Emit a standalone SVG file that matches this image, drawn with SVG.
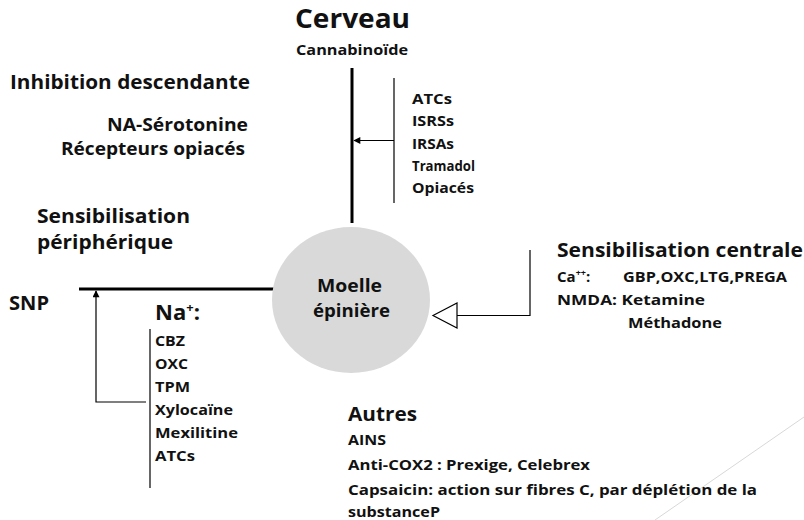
<svg xmlns="http://www.w3.org/2000/svg" width="804" height="520" viewBox="0 0 804 520">
<style>
text{font-family:"Open Sans","Noto Sans","Liberation Sans",sans-serif;font-weight:bold;fill:#111;}
.s{font-size:15px;}
.h{font-size:19px;}
.thick{stroke:#000;stroke-width:3;fill:none;}
.thin{stroke:#000;stroke-width:1.2;fill:none;}
</style>
<defs>
<marker id="ah" viewBox="0 0 10 10" refX="9" refY="5" markerWidth="8" markerHeight="7" markerUnits="userSpaceOnUse" orient="auto">
<path d="M0,0 L10,5 L0,10 z" fill="#000"/>
</marker>
</defs>
<rect width="804" height="520" fill="#fff"/>
<line x1="655" y1="520" x2="804" y2="417" stroke="#d8d8d8" stroke-width="1"/>

<g id="connectors">
<line class="thick" x1="352" y1="68" x2="352" y2="223"/>
<line class="thin" x1="394" y1="78" x2="394" y2="203"/>
<line class="thin" x1="394" y1="140.5" x2="354" y2="140.5" marker-end="url(#ah)"/>
<line class="thick" x1="79" y1="289" x2="274" y2="289"/>
<polyline class="thin" points="146,402 96,402 96,291" marker-end="url(#ah)"/>
<line class="thin" x1="150" y1="329" x2="150" y2="488"/>
<polyline class="thin" points="530,250 530,315.5 457,315.5"/>
<polygon points="433,315.5 457,303 457,328" fill="#fff" stroke="#000" stroke-width="1.2"/>
</g>

<g id="moelle">
<ellipse cx="351" cy="300" rx="79" ry="73" fill="#d9d9d9"/>
<text x="317" y="292" font-size="18" textLength="65" lengthAdjust="spacingAndGlyphs">Moelle</text>
<text x="313" y="317" font-size="18" textLength="77" lengthAdjust="spacingAndGlyphs">épinière</text>
</g>

<g id="cerveau">
<text x="295" y="28" font-size="26" textLength="115" lengthAdjust="spacingAndGlyphs">Cerveau</text>
<text class="s" x="296" y="55" textLength="112" lengthAdjust="spacingAndGlyphs">Cannabinoïde</text>
</g>

<g id="antidepresseurs">
<text class="s" x="412" y="104" textLength="40" lengthAdjust="spacingAndGlyphs">ATCs</text>
<text class="s" x="412" y="126" textLength="42" lengthAdjust="spacingAndGlyphs">ISRSs</text>
<text class="s" x="412" y="149" textLength="42" lengthAdjust="spacingAndGlyphs">IRSAs</text>
<text class="s" x="412" y="171" textLength="63" lengthAdjust="spacingAndGlyphs">Tramadol</text>
<text class="s" x="412" y="193" textLength="62" lengthAdjust="spacingAndGlyphs">Opiacés</text>
</g>

<g id="inhibition">
<text class="h" x="10" y="89" textLength="240" lengthAdjust="spacingAndGlyphs">Inhibition descendante</text>
<text x="107" y="131" font-size="17" textLength="141" lengthAdjust="spacingAndGlyphs">NA-Sérotonine</text>
<text x="61" y="155" font-size="17" textLength="184" lengthAdjust="spacingAndGlyphs">Récepteurs opiacés</text>
</g>

<g id="peripherique">
<text class="h" x="37" y="223" textLength="153" lengthAdjust="spacingAndGlyphs">Sensibilisation</text>
<text class="h" x="37" y="249" textLength="136" lengthAdjust="spacingAndGlyphs">périphérique</text>
</g>

<g id="snp">
<text class="h" x="9" y="310" textLength="40" lengthAdjust="spacingAndGlyphs">SNP</text>
</g>

<g id="sodium">
<text x="155" y="320" font-size="22">Na<tspan font-size="13" dy="-8">+</tspan><tspan dy="8">:</tspan></text>
<text class="s" x="155" y="346" textLength="30" lengthAdjust="spacingAndGlyphs">CBZ</text>
<text class="s" x="155" y="369" textLength="33" lengthAdjust="spacingAndGlyphs">OXC</text>
<text class="s" x="155" y="392" textLength="35" lengthAdjust="spacingAndGlyphs">TPM</text>
<text class="s" x="155" y="415" textLength="78" lengthAdjust="spacingAndGlyphs">Xylocaïne</text>
<text class="s" x="155" y="438" textLength="83" lengthAdjust="spacingAndGlyphs">Mexilitine</text>
<text class="s" x="155" y="461" textLength="40" lengthAdjust="spacingAndGlyphs">ATCs</text>
</g>

<g id="centrale">
<text class="h" x="557" y="257" textLength="246" lengthAdjust="spacingAndGlyphs">Sensibilisation centrale</text>
<text class="s" x="557" y="282">Ca<tspan font-size="9" dy="-6">++</tspan><tspan dy="6">:</tspan></text>
<text class="s" x="623" y="282" textLength="164" lengthAdjust="spacingAndGlyphs">GBP,OXC,LTG,PREGA</text>
<text class="s" x="557" y="305" textLength="148" lengthAdjust="spacingAndGlyphs">NMDA: Ketamine</text>
<text class="s" x="628" y="328" textLength="94" lengthAdjust="spacingAndGlyphs">Méthadone</text>
</g>

<g id="autres">
<text class="h" x="348" y="421" textLength="69" lengthAdjust="spacingAndGlyphs">Autres</text>
<text class="s" x="348" y="445" textLength="38" lengthAdjust="spacingAndGlyphs">AINS</text>
<text class="s" x="348" y="470" textLength="242" lengthAdjust="spacingAndGlyphs">Anti-COX2 : Prexige, Celebrex</text>
<text class="s" x="348" y="495" textLength="409" lengthAdjust="spacingAndGlyphs">Capsaicin: action sur fibres C, par déplétion de la</text>
<text class="s" x="348" y="517" textLength="92" lengthAdjust="spacingAndGlyphs">substanceP</text>
</g>
</svg>
